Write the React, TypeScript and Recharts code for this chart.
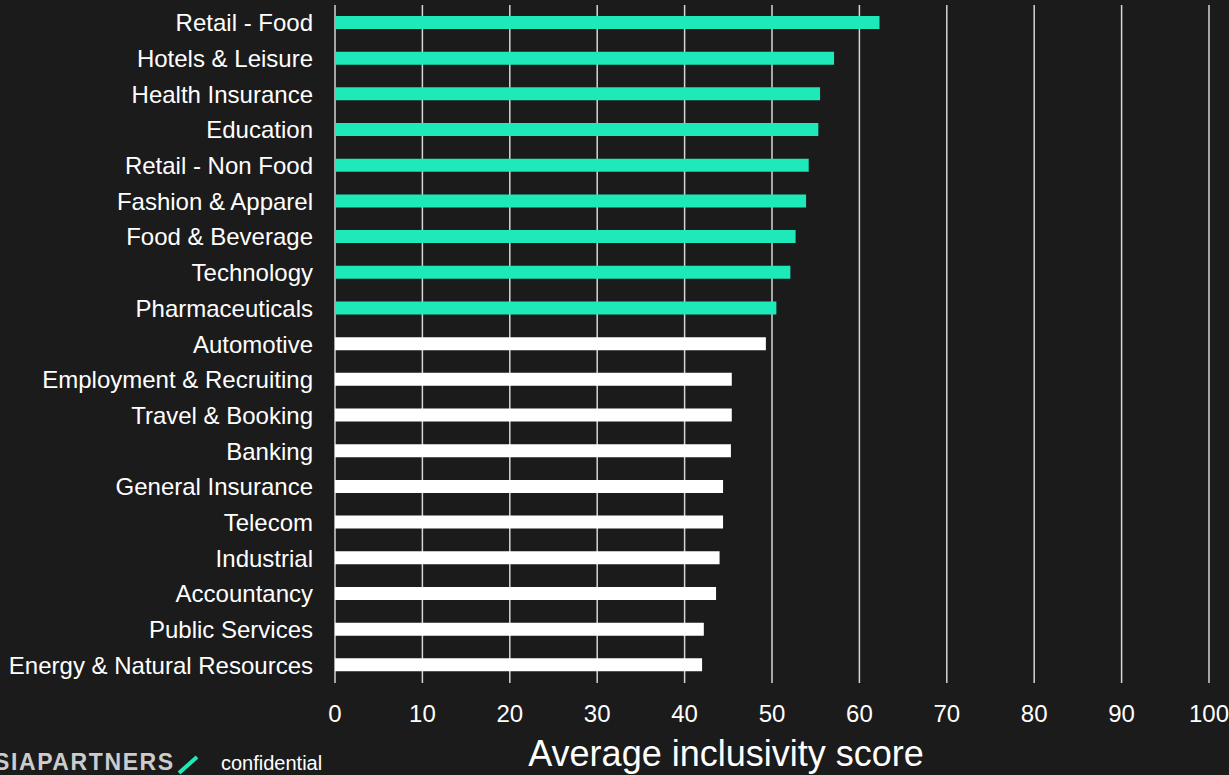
import { Bar, BarChart, CartesianGrid, Cell, XAxis, YAxis } from 'recharts';

const categories = [
	'Retail - Food',
	'Hotels & Leisure',
	'Health Insurance',
	'Education',
	'Retail - Non Food',
	'Fashion & Apparel',
	'Food & Beverage',
	'Technology',
	'Pharmaceuticals',
	'Automotive',
	'Employment & Recruiting',
	'Travel & Booking',
	'Banking',
	'General Insurance',
	'Telecom',
	'Industrial',
	'Accountancy',
	'Public Services',
	'Energy & Natural Resources',
];

const scores = [62.3, 57.1, 55.5, 55.3, 54.2, 53.9, 52.7, 52.1, 50.5, 49.3, 45.4, 45.4, 45.3, 44.4, 44.4, 44.0, 43.6, 42.2, 42.0];

// sectors shown in the accent colour
const highlighted = [
	'Retail - Food',
	'Hotels & Leisure',
	'Health Insurance',
	'Education',
	'Retail - Non Food',
	'Fashion & Apparel',
	'Food & Beverage',
	'Technology',
	'Pharmaceuticals',
];

const xTicks = [0, 10, 20, 30, 40, 50, 60, 70, 80, 90, 100];

const data = categories.map((sector, i) => ({ sector, score: scores[i] }));

const bg = '#1b1b1b';
const accent = '#1ee9b9';
const font = '"Liberation Sans", Arial, sans-serif';

export default function App() {
	return (
		<div style={{ position: 'fixed', left: 0, top: 0, width: 1229, height: 775, background: bg, overflow: 'hidden' }}>
			<BarChart
				width={1229}
				height={775}
				data={data}
				layout="vertical"
				barSize={13}
				margin={{ top: 5, right: 20, bottom: 0, left: 0 }}
			>
				<CartesianGrid horizontal={false} stroke="#d6d6d6" strokeWidth={1.5} />
				<XAxis
					type="number"
					domain={[0, 100]}
					ticks={xTicks}
					axisLine={false}
					tickLine={false}
					tickMargin={16}
					height={92}
					tick={{ fontSize: 24, fill: '#ffffff', fontFamily: font }}
					label={{
						content: () => (
							<text x={726} y={766} textAnchor="middle" fill="#ffffff" fontSize={36} fontFamily={font}>
								Average inclusivity score
							</text>
						),
					}}
				/>
				<YAxis
					type="category"
					dataKey="sector"
					width={335}
					axisLine={false}
					tickLine={false}
					tickMargin={16}
					interval={0}
					tick={{ fontSize: 24, fill: '#ffffff', fontFamily: font }}
				/>
				<Bar dataKey="score" isAnimationActive={false}>
					{data.map((d) => (
						<Cell key={d.sector} fill={highlighted.includes(d.sector) ? accent : '#ffffff'} />
					))}
				</Bar>
			</BarChart>
			<svg width={400} height={40} style={{ position: 'absolute', left: 0, top: 735 }}>
				<text x={-6} y={35} fontSize={23} fontWeight="bold" fill="#cccccc" fontFamily={font} letterSpacing={1.6}>
					SIAPARTNERS
				</text>
				<line x1={179} y1={38} x2={197} y2={22} stroke={accent} strokeWidth={4} />
				<text x={221} y={35} fontSize={20} fill="#ffffff" fontFamily={font}>
					confidential
				</text>
			</svg>
		</div>
	);
}
